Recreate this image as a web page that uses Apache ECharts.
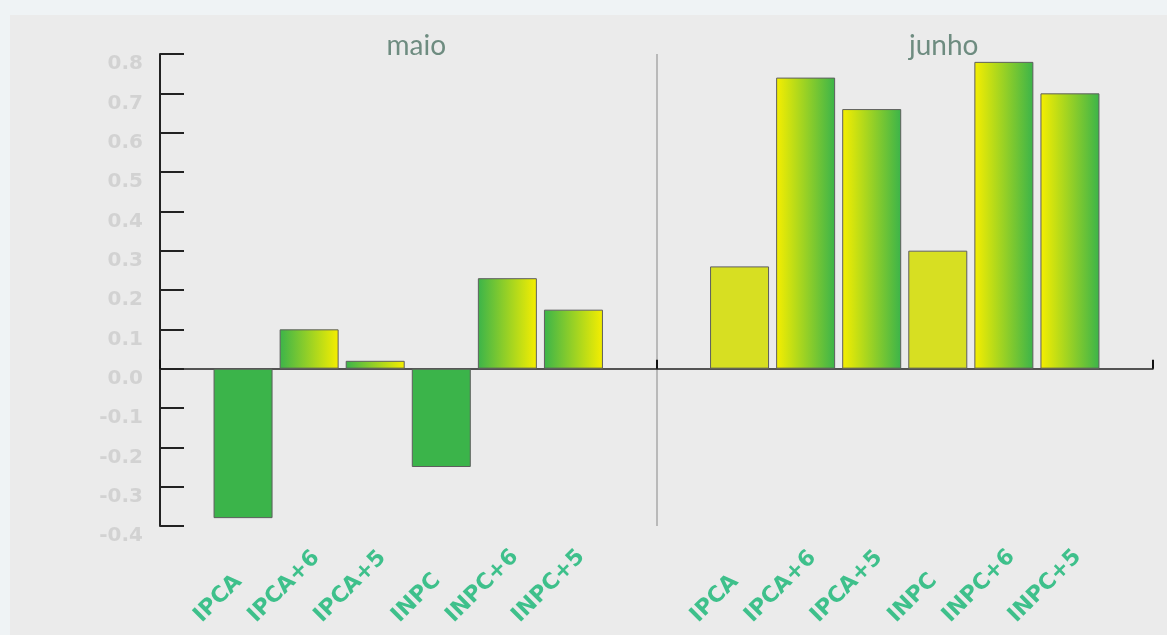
<!DOCTYPE html>
<html><head><meta charset="utf-8">
<script src="https://cdn.jsdelivr.net/npm/echarts@6/dist/echarts.min.js"></script>
<style>
html,body{margin:0;padding:0;background:#eff3f5;width:1167px;height:635px;overflow:hidden}
#panel{position:absolute;left:10px;top:15px;width:1157px;height:620px;background:#ebebeb}
#chart{position:absolute;left:0;top:0;width:1167px;height:635px}
</style></head><body><div id="panel"></div><div id="chart"></div>
<script>
// ---- data ----
const months = ['maio', 'junho'];
const seriesNames = ['IPCA', 'IPCA+6', 'IPCA+5', 'INPC', 'INPC+6', 'INPC+5'];
const maio = [-0.38, 0.10, 0.02, -0.25, 0.23, 0.15];
const junho = [0.26, 0.74, 0.66, 0.30, 0.78, 0.70];
const yMin = -0.4, yMax = 0.8, yStep = 0.1;

// ---- styles ----
const GREEN = '#3bb44a', YELLOW = '#f6ee00', LIME = '#d7df22';
function grad(a, b) {
  return { type: 'linear', x: 0, y: 0, x2: 1, y2: 0,
    colorStops: [{ offset: 0, color: a }, { offset: 1, color: b }] };
}
function fillFor(monthIdx, seriesIdx) {
  const plain = seriesIdx % 3 === 0;
  if (monthIdx === 0) return plain ? GREEN : grad(GREEN, YELLOW);
  return plain ? LIME : grad(YELLOW, GREEN);
}
const monthValues = [maio, junho];
const labelFont = 'DejaVu Sans';
const labelSize = 22;

// measure label text so all rotated labels end at the same bottom line
const ctx = document.createElement('canvas').getContext('2d');
ctx.font = 'bold ' + labelSize + 'px "' + labelFont + '"';
const refW = ctx.measureText(seriesNames[0]).width;

// ECharts rotates the offset with the label, so pre-rotate it by -45deg
const c45 = Math.SQRT1_2;
function labelOffsetFor(name) {
  const w = ctx.measureText(name).width;
  const dx = -25, dy = 230 - c45 * (w - refW) / 2;
  return [c45 * dx - c45 * dy, c45 * dx + c45 * dy];
}

const series = seriesNames.map((name, i) => ({
  type: 'bar',
  name: name,
  barWidth: 59,
  barGap: '12%',
  itemStyle: { borderColor: '#5e5e5e', borderWidth: 1 },
  label: {
    show: true, formatter: '{a}', rotate: 45,
    align: 'center', verticalAlign: 'middle',
    offset: labelOffsetFor(name),
    color: '#3ec08b', fontSize: labelSize, fontWeight: 'bold', fontFamily: labelFont
  },
  data: months.map((m, k) => {
    const v = monthValues[k][i];
    return {
      value: v,
      itemStyle: { color: fillFor(k, i) },
      label: { position: v >= 0 ? ['50%', '100%'] : ['50%', '0%'] }
    };
  })
}));

const titleStyle = { color: '#6e8c80', fontSize: 28, fontFamily: 'Lato' };

const chart = echarts.init(document.getElementById('chart'));
chart.setOption({
  backgroundColor: 'transparent',
  animation: false,
  grid: { left: 160, right: 14, top: 54, bottom: 109, containLabel: false },
  xAxis: [{
    type: 'category', data: months, position: 'bottom',
    axisLine: { onZero: true, lineStyle: { color: '#222', width: 1.5 } },
    axisTick: { show: true, inside: true, length: 9, lineStyle: { color: '#111', width: 2 } },
    axisLabel: { show: false },
    splitLine: { show: true, showMinLine: false, showMaxLine: false,
      lineStyle: { color: '#a9a9a9', width: 1.5 } }
  }, {
    type: 'category', data: months, position: 'top',
    axisLine: { show: false }, axisTick: { show: false },
    axisLabel: {
      margin: -6,
      formatter: v => v === 'maio' ? '{a|' + v + '}' : '{b|' + v + '}',
      rich: {
        a: Object.assign({ padding: [0, 0, 0, 16] }, titleStyle),
        b: Object.assign({ padding: [0, 0, 0, 78] }, titleStyle)
      }
    }
  }],
  yAxis: {
    type: 'value', min: yMin, max: yMax, interval: yStep,
    axisLine: { show: true, lineStyle: { color: '#222', width: 2 } },
    axisTick: { show: true, inside: true, length: 24, lineStyle: { color: '#222', width: 2 } },
    splitLine: { show: false },
    axisLabel: {
      color: '#d2d2d2', fontSize: 20, fontWeight: 'bold', fontFamily: 'DejaVu Sans',
      margin: 17, verticalAlign: 'top',
      formatter: v => (Math.abs(v) < 1e-9 ? 0 : v).toFixed(1)
    }
  },
  series: series
});
</script></body></html>
